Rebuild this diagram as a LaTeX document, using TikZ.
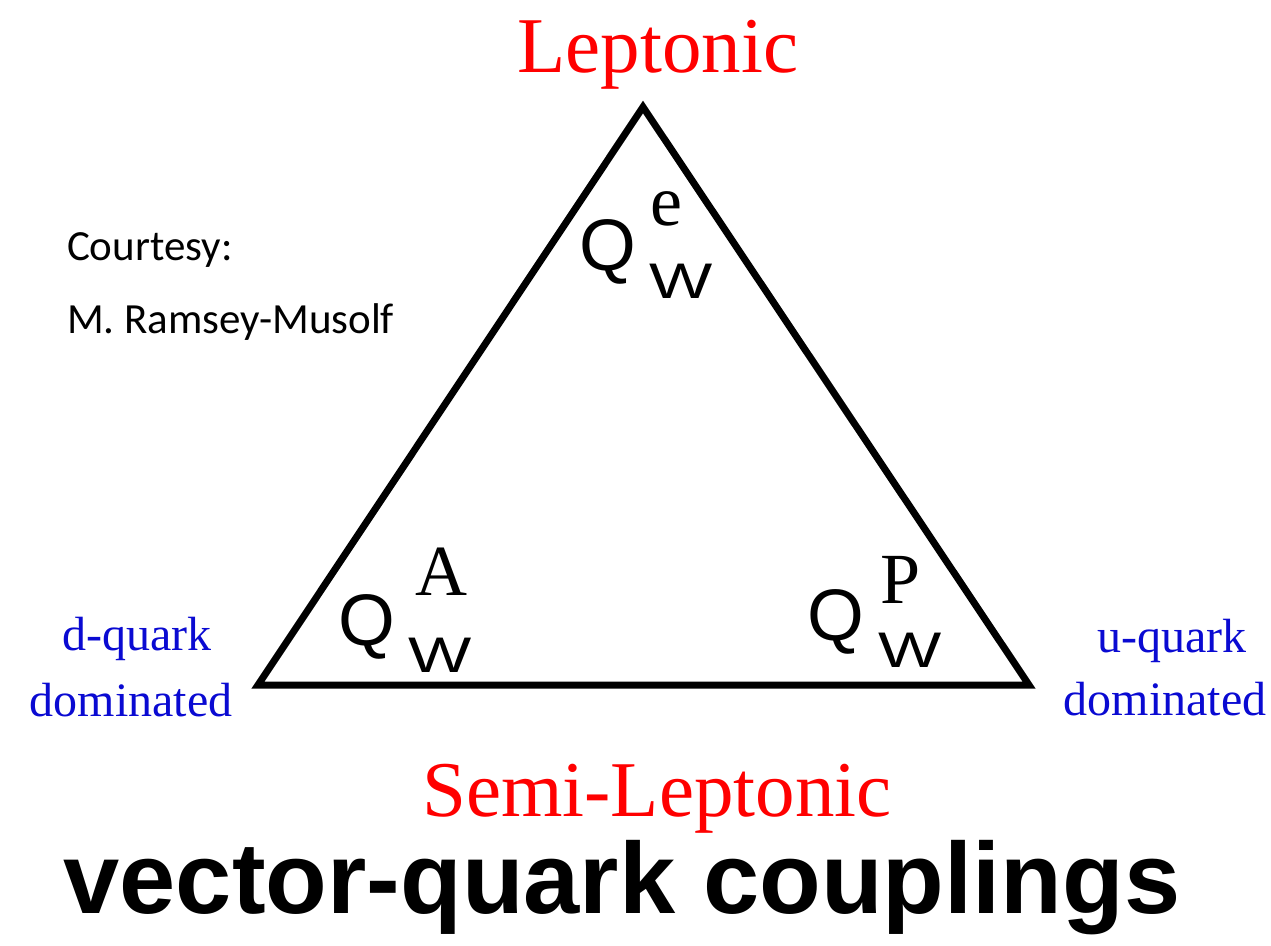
\documentclass[tikz,border=0pt]{standalone}
\usepackage{fontspec}
\setmainfont{Liberation Serif}
\newfontfamily\arialfont{Liberation Sans}
\newfontfamily\calibrifont{Carlito}
\definecolor{labred}{RGB}{255,0,0}
\definecolor{labblue}{RGB}{10,10,210}
\begin{document}
\begin{tikzpicture}[x=1pt,y=-1pt,
  every node/.style={inner sep=0pt, outer sep=0pt},
  corner/.style={text=labred, font=\fontsize{79}{90}\selectfont, anchor=base},
  quark/.style={text=labblue, font=\fontsize{48}{58}\selectfont, anchor=base},
  qsym/.style={font=\arialfont\fontsize{73}{80}\selectfont, anchor=base},
  wsym/.style={font=\arialfont\fontsize{50}{60}\selectfont, anchor=base},
  supsym/.style={font=\fontsize{72}{80}\selectfont, anchor=base},
  credit/.style={font=\calibrifont\fontsize{43}{50}\selectfont, anchor=base west},
  titletext/.style={font=\arialfont\bfseries\fontsize{101}{110}\selectfont, anchor=base}]
\path[use as bounding box, fill=white] (0,0) rectangle (1271,945);
% triangle
\coordinate (apex) at (643,107);
\coordinate (bl) at (258,685);
\coordinate (br) at (1029,685);
\draw[line width=7pt, line join=miter] (apex) -- (bl) -- (br) -- cycle;
% corner labels
\node[corner] (lep) at (658,72) {Leptonic};
\node[corner] (semi) at (657,816) {Semi-Leptonic};
\node[quark] (dq) at (137,650) {d-quark};
\node[quark] (ddom) at (131,716) {dominated};
\node[quark] (uq) at (1172,652) {u-quark};
\node[quark] (udom) at (1165,715) {dominated};
% credit
\node[credit] (court) at (67,260) {Courtesy:};
\node[credit] (musolf) at (67,333) {M. Ramsey-Musolf};
% Q_W^e
\node[qsym] (qe) at (608,270) {Q};
\node[supsym] (qes) at (666,225) {e};
\node[wsym] (qew) at (681,298) {\scalebox{1.34}[1]{W}};
% Q_W^A
\node[qsym] (qa) at (367,645) {Q};
\node[supsym] (qas) at (441,595) {A};
\node[wsym] (qaw) at (440,672) {\scalebox{1.34}[1]{W}};
% Q_W^P
\node[qsym] (qp) at (836,640) {Q};
\node[supsym] (qps) at (901,603) {P};
\node[wsym] (qpw) at (910,667) {\scalebox{1.34}[1]{W}};
% title
\node[titletext] (title) at (622,913) {vector-quark couplings};
\end{tikzpicture}
\end{document}
